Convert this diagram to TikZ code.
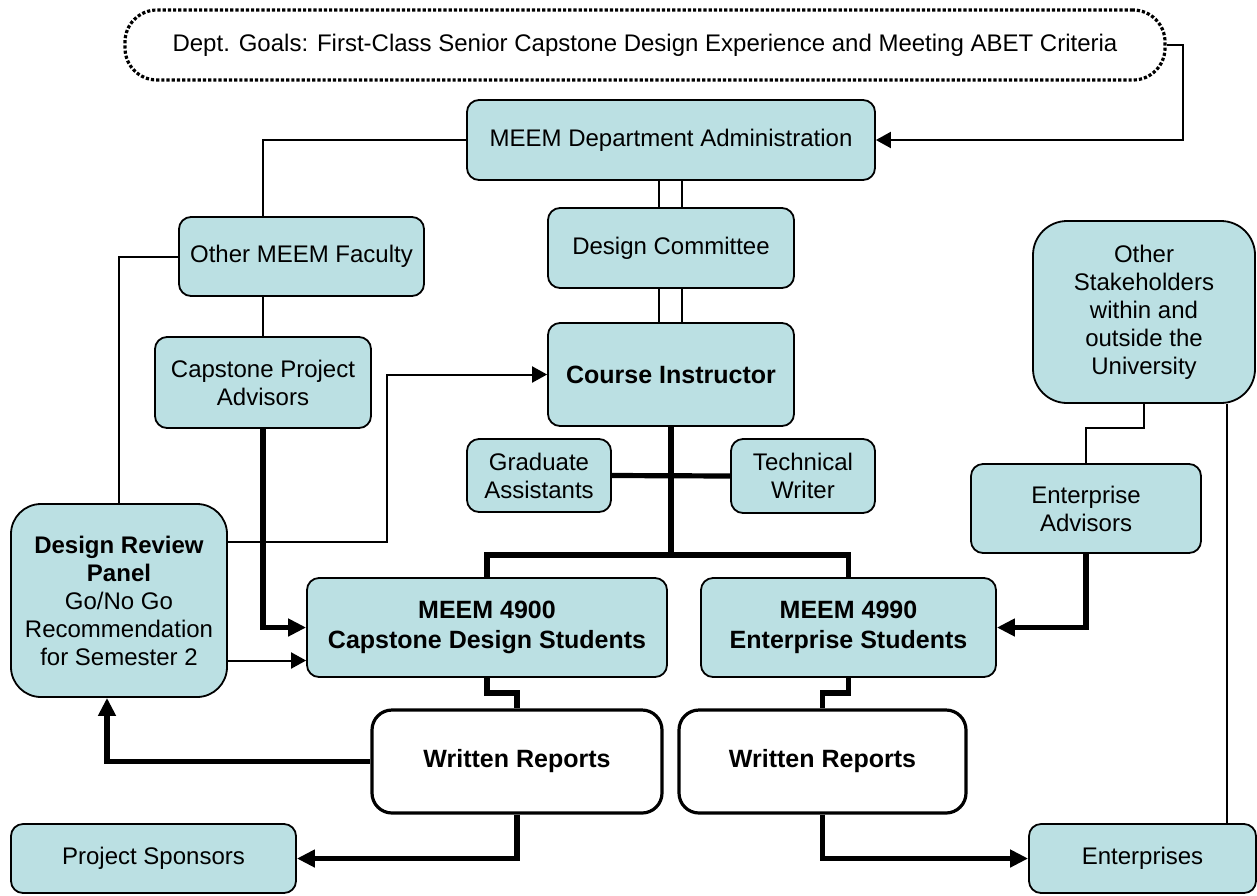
\documentclass[tikz,border=0pt]{standalone}
\usepackage{fontspec}
\setmainfont{Liberation Sans}
\usepackage{tikz}
\usetikzlibrary{arrows.meta}
\definecolor{boxfill}{RGB}{187,224,227}

\begin{document}
\begin{tikzpicture}[x=0.5pt,y=-0.5pt,
  unit/.style={rectangle,rounded corners=6pt,draw,line width=0.9pt,fill=boxfill,
    align=center,inner sep=2pt,font=\fontsize{12}{14}\selectfont},
  boldunit/.style={unit,font=\fontsize{12.5}{15}\selectfont\bfseries},
  report/.style={boldunit,fill=white,line width=1.6pt,rounded corners=10pt},
  thin/.style={line width=1pt,-},
  heavy/.style={line width=2.6pt,-},
  tip/.style={-{Triangle[length=7.5pt,width=8pt]}},
  bigtip/.style={-{Triangle[length=9pt,width=8.5pt]}}]
\useasboundingbox (0,0) rectangle (1257,895);
% top of the chart
\node (goals) at (645,45) [rectangle,rounded corners=16pt,draw,line width=1.6pt,
  dash pattern=on 1.6pt off 1pt,minimum width=520pt,minimum height=35pt,
  font=\fontsize{12}{14}\selectfont]
  {Dept. Goals: First-Class Senior Capstone Design Experience and Meeting ABET Criteria};
\node (admin) at (671,140) [unit,minimum width=204pt,minimum height=40pt] {MEEM Department Administration};
\node (dc)    at (671,248) [unit,minimum width=123pt,minimum height=40pt] {Design Committee};
\node (ci)    at (671,374.5) [boldunit,minimum width=123pt,minimum height=51.5pt] {Course Instructor};
\node (omf)   at (301.5,256.5) [unit,minimum width=122.5pt,minimum height=39.5pt] {Other MEEM Faculty};
\node (cpa)   at (263,382.5) [unit,minimum width=108pt,minimum height=45.5pt] {Capstone Project\\Advisors};
\node (ga)    at (539,475.5) [unit,minimum width=72pt,minimum height=36.5pt] {Graduate\\Assistants};
\node (tw)    at (803,476) [unit,minimum width=72pt,minimum height=37pt] {Technical\\Writer};
\node (os)    at (1144,312) [unit,rounded corners=17pt,minimum width=111pt,minimum height=91pt]
  {Other\\Stakeholders\\within and\\outside the\\University};
\node (ea)    at (1086,508.5) [unit,minimum width=115pt,minimum height=44.5pt] {Enterprise\\Advisors};
% students and reviews
\node (drp)   at (119,600.5) [unit,rounded corners=15pt,minimum width=108pt,minimum height=96.5pt]
  {\textbf{Design Review}\\\textbf{Panel}\\Go/No Go\\Recommendation\\for Semester 2};
\node (m4900) at (487,627.5) [boldunit,minimum width=180pt,minimum height=49.5pt] {MEEM 4900\\Capstone Design Students};
\node (m4990) at (848.5,627.5) [boldunit,minimum width=147.5pt,minimum height=49.5pt] {MEEM 4990\\Enterprise Students};
\node (wr1)   at (517,761.5) [report,minimum width=145pt,minimum height=51.5pt] {Written Reports};
\node (wr2)   at (822.5,761.5) [report,minimum width=143.5pt,minimum height=51.5pt] {Written Reports};
\node (ps)    at (153.5,858.5) [unit,minimum width=142.5pt,minimum height=34.5pt] {Project Sponsors};
\node (ent)   at (1142.5,858.5) [unit,minimum width=113.5pt,minimum height=34.5pt] {Enterprises};
\coordinate (split) at (671,555);
% connectors
\draw [thin,tip] (goals.east) -- ++(16,0) |- (admin.east);
\draw [thin] (admin.west) -| (omf.north -| cpa.north);
\draw [thin] (omf.south -| cpa.north) -- (cpa.north);
\draw [thin] ([xshift=-6pt]admin.south) -- ([xshift=-6pt]dc.north);
\draw [thin] ([xshift=5.5pt]admin.south) -- ([xshift=5.5pt]dc.north);
\draw [thin] ([xshift=-6pt]dc.south) -- ([xshift=-6pt]ci.north);
\draw [thin] ([xshift=5.5pt]dc.south) -- ([xshift=5.5pt]ci.north);
\draw [thin] (omf.west) -| (drp.north);
\draw [thin,tip] ([yshift=29.5pt]drp.east) -| ([xshift=-80pt]ci.west) -- (ci.west);
\draw [thin,tip] ([yshift=-30pt]drp.east) -- ([yshift=-30pt]drp.east -| m4900.west);
\draw [heavy,bigtip] (cpa.south) |- (m4900.west);
\draw [heavy] (ci.south) -- (split);
\draw [heavy] (ga.east) -- (tw.west);
\draw [heavy] (m4900.north) |- (split) -| (m4990.north);
\draw [heavy] (m4900.south) -- ++(0,15) -| (wr1.north);
\draw [heavy] (m4990.south) -- ++(0,15) -| (wr2.north);
\draw [heavy,bigtip] (wr1.west) -| ([xshift=-6pt]drp.south);
\draw [heavy,bigtip] (wr1.south) |- (ps.east);
\draw [heavy,bigtip] (wr2.south) |- (ent.west);
\draw [thin] (os.south) -- ++(0,24) -| (ea.north);
\draw [heavy,bigtip] (ea.south) |- (m4990.east);
\draw [thin] ([xshift=41.5pt]os.south) -- ([xshift=41.5pt]os.south |- ent.north);
\end{tikzpicture}
\end{document}
